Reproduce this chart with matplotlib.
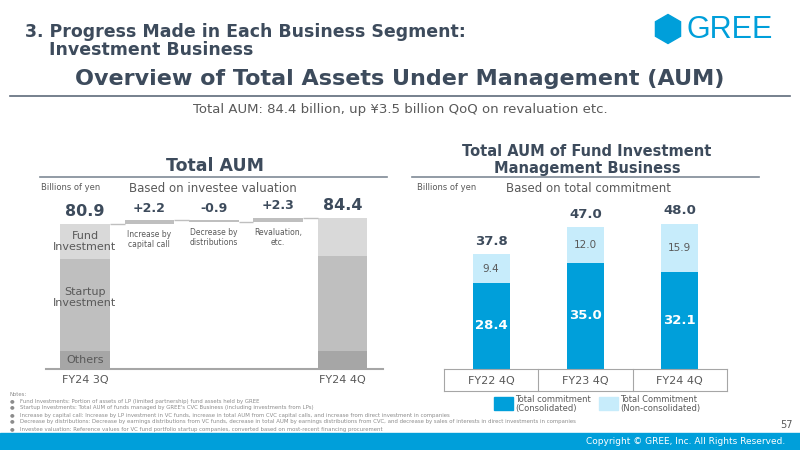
"""GREE investment business slide: total AUM waterfall and fund AUM bars"""

import matplotlib
matplotlib.use("Agg")
import matplotlib.pyplot as plt
from matplotlib.patches import RegularPolygon, Rectangle

W, H = 800, 450
DARK = "#3d4b5c"
GRAY_TXT = "#595959"
BLUE = "#009fda"
LIGHT_BLUE = "#c7ecfb"

# left chart data (billions of yen)
aum_labels = ["FY24 3Q", "FY24 4Q"]
aum_others = [10.1, 10.1]
aum_startup = [51.2, 53.1]
aum_fund = [19.6, 21.2]
aum_totals = ["80.9", "84.4"]
step_values = [2.2, -0.9, 2.3]
step_labels = ["+2.2", "-0.9", "+2.3"]
step_names = ["Increase by\ncapital call", "Decrease by\ndistributions", "Revaluation,\netc."]

# right chart data
fund_labels = ["FY22 4Q", "FY23 4Q", "FY24 4Q"]
fund_consol = [28.4, 35.0, 32.1]
fund_nonconsol = [9.4, 12.0, 15.9]
fund_totals = [37.8, 47.0, 48.0]

notes = [
    "Fund Investments: Portion of assets of LP (limited partnership) fund assets held by GREE",
    "Startup Investments: Total AUM of funds managed by GREE's CVC Business (including investments from LPs)",
    "Increase by capital call: Increase by LP investment in VC funds, increase in total AUM from CVC capital calls, "
    "and increase from direct investment in companies",
    "Decrease by distributions: Decrease by earnings distributions from VC funds, decrease in total AUM by earnings "
    "distributions from CVC, and decrease by sales of interests in direct investments in companies",
    "Investee valuation: Reference values for VC fund portfolio startup companies, converted based on most-recent "
    "financing procurement",
]

fig = plt.figure(figsize=(8, 4.5), dpi=100)
fig.patch.set_facecolor("white")


def px(x, y):
    """pixel coords (from top left) to figure fraction"""
    return x / W, 1 - y / H


def ftext(x, y, s, **kw):
    fx, fy = px(x, y)
    kw.setdefault("va", "center")
    return fig.text(fx, fy, s, **kw)


def fline(x0, x1, y, color, lw):
    fx0, fy = px(x0, y)
    fx1, _ = px(x1, y)
    fig.add_artist(plt.Line2D([fx0, fx1], [fy, fy], color=color, lw=lw, transform=fig.transFigure))


# header
ftext(25, 32, "3. Progress Made in Each Business Segment:", fontsize=12.5, fontweight="bold",
      color=DARK, ha="left")
ftext(49, 50, "Investment Business", fontsize=12.5, fontweight="bold", color=DARK, ha="left")
logo = RegularPolygon((6.68, 4.5 - 0.29), numVertices=6, radius=0.145, orientation=0,
                      transform=fig.dpi_scale_trans, color=BLUE)
fig.add_artist(logo)
ftext(730, 30, "GREE", fontsize=22, color=BLUE, ha="center", family="Liberation Sans")
ftext(400, 79, "Overview of Total Assets Under Management (AUM)", fontsize=16,
      fontweight="bold", color=DARK, ha="center")
fline(10, 790, 96, "#5f6b7a", 1.2)
ftext(400, 110, "Total AUM: 84.4 billion, up \u00a53.5 billion QoQ on revaluation etc.",
      fontsize=9.5, color=GRAY_TXT, ha="center")

# section titles
ftext(215, 166, "Total AUM", fontsize=12.5, fontweight="bold", color=DARK, ha="center")
fline(40, 387, 177, "#7f8a96", 1.2)
ftext(41, 187, "Billions of yen", fontsize=6, color=GRAY_TXT, ha="left")
ftext(213, 189, "Based on investee valuation", fontsize=8.5, color=GRAY_TXT, ha="center")

ftext(587, 151, "Total AUM of Fund Investment", fontsize=10.5, fontweight="bold", color=DARK, ha="center")
ftext(587, 168, "Management Business", fontsize=10.5, fontweight="bold", color=DARK, ha="center")
fline(412, 759, 177, "#7f8a96", 1.2)
ftext(417, 187, "Billions of yen", fontsize=6, color=GRAY_TXT, ha="left")
ftext(588, 189, "Based on total commitment", fontsize=8.5, color=GRAY_TXT, ha="center")

# ---- left waterfall ----
ax1 = fig.add_axes([46 / W, 1 - 369 / H, (383 - 46) / W, 179 / H])
ax1.set_xlim((46 - 85) / 64.4, (383 - 85) / 64.4)
ax1.set_ylim(0, 100)
for s in ["top", "right", "left"]:
    ax1.spines[s].set_visible(False)
ax1.spines["bottom"].set_color("#a6a6a6")
ax1.spines["bottom"].set_linewidth(1.5)
ax1.set_yticks([])
ax1.set_xticks([0, 4])
ax1.set_xticklabels(aum_labels, fontsize=8, color=GRAY_TXT)
ax1.tick_params(axis="x", length=0, pad=4)

bw = 0.77
end_pos = [0, 4]
ax1.bar(end_pos, aum_others, width=bw, color="#a6a6a6")
ax1.bar(end_pos, aum_startup, width=bw, bottom=aum_others, color="#bfbfbf")
base2 = [a + b for a, b in zip(aum_others, aum_startup)]
ax1.bar(end_pos, aum_fund, width=bw, bottom=base2, color="#d9d9d9")
tops = [a + b for a, b in zip(base2, aum_fund)]
for x, t, s in zip(end_pos, tops, aum_totals):
    ax1.text(x, t + 3, s, ha="center", va="bottom", fontsize=11.5, fontweight="bold", color=DARK)

ax1.text(0, base2[0] + aum_fund[0] / 2, "Fund\nInvestment", ha="center", va="center",
         fontsize=8, color=GRAY_TXT, linespacing=1.1)
ax1.text(0, aum_others[0] + aum_startup[0] * 0.58, "Startup\nInvestment", ha="center", va="center",
         fontsize=8, color=GRAY_TXT, linespacing=1.1)
ax1.text(0, aum_others[0] / 2, "Others", ha="center", va="center", fontsize=8, color=GRAY_TXT)

running = tops[0]
for i, (v, lab, name) in enumerate(zip(step_values, step_labels, step_names)):
    x = i + 1
    start = running
    running = running + v
    ax1.bar(x, abs(v), width=bw, bottom=min(start, running), color="#bfbfbf")
    ax1.hlines(start, x - 1 + bw / 2, x - bw / 2, color="#bfbfbf", lw=1)
    ax1.text(x, max(start, running) + 3, lab, ha="center", va="bottom", fontsize=9,
             fontweight="bold", color=DARK)
    ax1.text(x, min(start, running) - 3.5, name, ha="center", va="top", fontsize=5.5,
             color=GRAY_TXT, linespacing=1.1)
ax1.hlines(running, 3 + bw / 2, 4 - bw / 2, color="#bfbfbf", lw=1)

# ---- right stacked bars ----
ax2 = fig.add_axes([444 / W, 1 - 369 / H, (727 - 444) / W, 179 / H])
ax2.set_xlim(-0.5, 2.5)
ax2.set_ylim(0, 179 / 3.03)
for s in ["top", "right", "left"]:
    ax2.spines[s].set_visible(False)
ax2.spines["bottom"].set_color("#a6a6a6")
ax2.set_yticks([])
xs = list(range(len(fund_labels)))
ax2.set_xticks(xs)
ax2.set_xticklabels(fund_labels, fontsize=8, color=GRAY_TXT)
ax2.tick_params(axis="x", length=0, pad=5)

bw2 = 0.39
ax2.bar(xs, fund_consol, width=bw2, color=BLUE)
ax2.bar(xs, fund_nonconsol, width=bw2, bottom=fund_consol, color=LIGHT_BLUE)
for x, c, n, t in zip(xs, fund_consol, fund_nonconsol, fund_totals):
    ax2.text(x, c * 0.5, f"{c:.1f}", ha="center", va="center", fontsize=9.5,
             fontweight="bold", color="white")
    ax2.text(x, c + n / 2, f"{n:.1f}", ha="center", va="center", fontsize=7.5, color=GRAY_TXT)
    ax2.text(x, t + 2.0, f"{t:.1f}", ha="center", va="bottom", fontsize=9.5,
             fontweight="bold", color=DARK)

# table box under categories
box_h = 22 / 179
for xf in [0, 1 / 3, 2 / 3, 1]:
    ax2.plot([xf, xf], [0, -box_h], transform=ax2.transAxes, color="#a6a6a6", lw=0.8, clip_on=False)
ax2.plot([0, 1], [-box_h, -box_h], transform=ax2.transAxes, color="#a6a6a6", lw=0.8, clip_on=False)

# legend
for x0, col, txt in [(494, BLUE, "Total commitment\n(Consolidated)"),
                     (599, LIGHT_BLUE, "Total Commitment\n(Non-consolidated)")]:
    fx, fy = px(x0, 410)
    fig.add_artist(Rectangle((fx, fy), 19 / W, 13 / H, transform=fig.transFigure, color=col))
    ftext(x0 + 21, 404, txt, fontsize=6, color=GRAY_TXT, ha="left", linespacing=1.1)

# notes
ftext(10, 394, "Notes:", fontsize=3.9, color="#8c8c8c", ha="left")
for i, n in enumerate(notes):
    ftext(10, 401 + i * 7, "\u25cf   " + n, fontsize=3.9, color="#8c8c8c", ha="left")
ftext(786, 425, "57", fontsize=7, color=GRAY_TXT, ha="center")

# footer
fig.add_artist(Rectangle((0, 0), 1, 17 / H, transform=fig.transFigure, color=BLUE))
ftext(785, 442, "Copyright \u00a9 GREE, Inc. All Rights Reserved.", fontsize=6.5,
      color="white", ha="right")

fig.savefig("out.png", dpi=100, facecolor="white")
